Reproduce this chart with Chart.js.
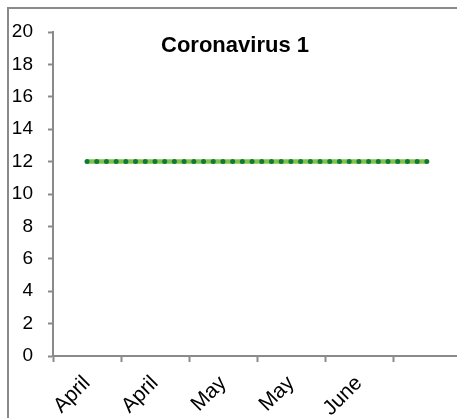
<!DOCTYPE html>
<html>
<head>
<meta charset="utf-8">
<script src="https://cdn.jsdelivr.net/npm/chart.js@4"></script>
<style>
  html, body { margin: 0; padding: 0; background: #fff; overflow: hidden; }
  #wrap { position: relative; width: 457px; height: 418px; overflow: hidden; }
  canvas { display: block; }
</style>
</head>
<body>
<div id="wrap"><canvas id="chart" width="461" height="418"></canvas></div>
<script>
// Category labels along the bottom axis
const months = ['April', 'April', 'May', 'May', 'June', ''];
// Two overlaid series: a solid light-green band and a dotted dark-green line
const bandValues = [12, 12, 12, 12, 12, 12];
const dotValues = [12, 12, 12, 12, 12, 12];
// Value axis ticks
const yMin = 0;
const yMax = 20;
const yStep = 2;
const chartTitle = 'Coronavirus 1';

const axisGray = '#8a8a8a';
const font = 'Liberation Sans, Arial, Helvetica, sans-serif';

// Frame lines and the title sitting inside the plot area
const decorations = {
  id: 'decorations',
  beforeDraw(chart) {
    const ctx = chart.ctx;
    ctx.save();
    ctx.fillStyle = '#fff';
    ctx.fillRect(0, 0, chart.width, chart.height);
    ctx.strokeStyle = axisGray;
    ctx.lineWidth = 2;
    ctx.beginPath();
    ctx.moveTo(8, chart.height);
    ctx.lineTo(8, 8);
    ctx.lineTo(chart.width, 8);
    ctx.stroke();
    ctx.restore();
  },
  afterDraw(chart) {
    const ctx = chart.ctx;
    ctx.save();
    ctx.fillStyle = '#000';
    ctx.font = 'bold 22px ' + font;
    ctx.textAlign = 'center';
    ctx.textBaseline = 'alphabetic';
    ctx.fillText(chartTitle, 235, 52);
    ctx.restore();
  }
};

new Chart(document.getElementById('chart'), {
  type: 'line',
  data: {
    labels: months,
    datasets: [
      {
        label: 'dots',
        data: dotValues,
        borderColor: '#0f7a36',
        borderWidth: 5,
        borderDash: [0.01, 9.7],
        borderCapStyle: 'round',
        pointRadius: 0,
        tension: 0,
        fill: false
      },
      {
        label: 'band',
        data: bandValues,
        borderColor: '#80c24c',
        borderWidth: 4.5,
        borderCapStyle: 'butt',
        pointRadius: 0,
        tension: 0,
        fill: false
      }
    ]
  },
  options: {
    responsive: false,
    animation: false,
    devicePixelRatio: 1,
    layout: { padding: { top: 32, left: 0, right: 0, bottom: 0 } },
    plugins: {
      legend: { display: false },
      tooltip: { enabled: false },
      title: { display: false }
    },
    scales: {
      x: {
        type: 'category',
        offset: true,
        grid: {
          offset: true,
          drawOnChartArea: false,
          drawTicks: true,
          tickLength: 6,
          tickColor: axisGray,
          tickWidth: 2
        },
        border: { display: true, color: axisGray, width: 2 },
        ticks: {
          autoSkip: false,
          minRotation: 45,
          maxRotation: 45,
          padding: 9,
          color: '#000',
          font: { family: font, size: 21 }
        },
        afterFit(scale) { scale.height = 62; }
      },
      y: {
        min: yMin,
        max: yMax,
        grid: {
          drawOnChartArea: false,
          drawTicks: true,
          tickLength: 5,
          tickColor: axisGray,
          tickWidth: 2
        },
        border: { display: true, color: axisGray, width: 2 },
        ticks: {
          stepSize: yStep,
          padding: 15,
          color: '#000',
          font: { family: font, size: 19 }
        },
        afterFit(scale) { scale.width = 53; }
      }
    }
  },
  plugins: [decorations]
});
</script>
</body>
</html>
